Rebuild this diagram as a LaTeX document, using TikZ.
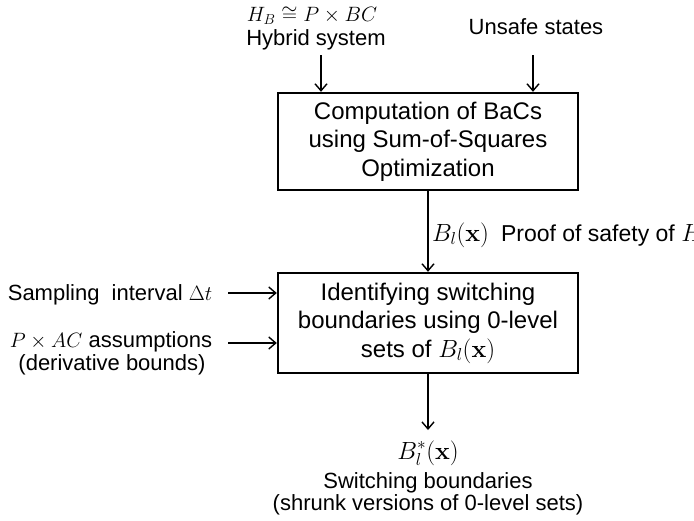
\documentclass[tikz,border=0pt]{standalone}
\usepackage[no-math]{fontspec}
\setmainfont{Liberation Sans}
\usetikzlibrary{arrows.meta}
\begin{document}
\begin{tikzpicture}[x=1pt,y=-1pt,
  procbox/.style={draw, line width=2.4pt, minimum width=300pt, align=center,
    font=\fontsize{24}{28.5}\selectfont, inner sep=0pt},
  lbl/.style={font=\fontsize{22}{25}\selectfont, inner sep=0pt},
  conn/.style={line width=1.4pt, -{Straight Barb[length=7pt,width=12pt,line width=1.4pt]}}
]
\useasboundingbox (0,0) rectangle (694,520);
% boxes
\node[procbox, minimum height=97pt] (b1) at (428,141.5)
  {Computation of BaCs\\using Sum-of-Squares\\Optimization};
\node[procbox, minimum height=100pt] (b2) at (428,323)
  {Identifying switching\\boundaries using 0-level\\sets of $B_l(\mathbf{x})$};
% top inputs
\node[lbl, anchor=base, font=\fontsize{20}{24}\selectfont] (hb) at (312,21) {$H_B\cong P\times BC$};
\node[lbl, anchor=base] (hy) at (316,45) {Hybrid system};
\node[lbl, anchor=base] (us) at (536,34) {Unsafe states};
\coordinate (hyarr) at (321,55);
\coordinate (usarr) at (533,55);
\draw[conn] (hyarr) -- (hyarr |- b1.north);
\draw[conn] (usarr) -- (usarr |- b1.north);
% middle
\draw[conn] (b1.south) -- (b2.north);
\node[lbl, anchor=base west, font=\fontsize{23}{26}\selectfont] (proof) at (432,241)
  {$B_l(\mathbf{x})$\hspace{12pt}Proof of safety of $H$};
% left inputs
\node[lbl, anchor=base] (samp) at (110,300) {Sampling\ \ interval $\Delta t$};
\node[lbl, anchor=base] (pac) at (111,347) {$P\times AC$ assumptions};
\node[lbl, anchor=base] (der) at (112,370) {(derivative bounds)};
\coordinate (samparr) at (228,293);
\coordinate (pacarr) at (228,343);
\draw[conn] (samparr) -- (samparr -| b2.west);
\draw[conn] (pacarr) -- (pacarr -| b2.west);
% output
\coordinate (outarr) at (428,430);
\draw[conn] (b2.south) -- (outarr);
\node[lbl, anchor=base, font=\fontsize{25}{28}\selectfont] (bstar) at (428,459) {$B_l^*(\mathbf{x})$};
\node[lbl, anchor=base] (sw) at (428,488) {Switching boundaries};
\node[lbl, anchor=base] (shr) at (428,510) {(shrunk versions of 0-level sets)};
\end{tikzpicture}
\end{document}
